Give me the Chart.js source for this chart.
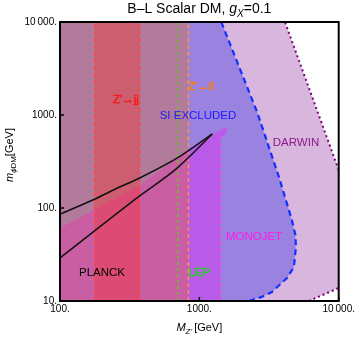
<!DOCTYPE html>
<html>
<head>
<meta charset="utf-8">
<script src="https://cdn.jsdelivr.net/npm/chart.js@4.4.1/dist/chart.umd.min.js"></script>
<style>
html, body { margin: 0; padding: 0; background: #fff; }
canvas { display: block; }
</style>
</head>
<body>
<canvas id="dmChart" width="357" height="337"></canvas>
<script>
'use strict';

// 축 눈금
const xTicks = [100, 1000, 10000];
const yTicks = [10, 100, 1000, 10000];

// 수직 경계 (M_Z' [GeV])
const zjjBand = [178, 373];
const zllEdge = 835;
const lepEdge = 700;
const monojetEdge = 1413;

// DARWIN 영역
const darwinX = [100, 6105, 10000, 10000, 4115, 100];
const darwinY = [10, 10, 13.8, 256, 10000, 10000];

// SI EXCLUDED 영역 (경계: 2275 ~ 1436)
const siX = [100, 2275, 2773, 3320, 4252, 4772, 4930, 4887, 4613, 3728, 2596, 1436, 100];
const siY = [10, 10, 11.0, 12.5, 17.7, 23.2, 38.1, 51.3, 74.3, 215, 1077, 10000, 10000];

// MONOJET 영역
const monojetX = [100, 100, 373, 849, 1450, 1590, 1560, 1413, 1413];
const monojetY = [10, 61, 177, 431, 705, 745, 640, 560, 10];

// PLANCK 곡선 (위 / 아래)
const upperX = [100, 172, 268, 373, 696, 1238];
const upperY = [86, 122, 168, 210, 345, 625];
const lowerX = [100, 373, 696, 1238];
const lowerY = [29, 135, 270, 625];

const FONT = '"Liberation Sans", Arial, sans-serif';

// 영역 라벨 (strong: 배경과 대비가 약한 라벨은 살짝 두껍게)
const regionLabels = [
	{ text: 'Z\'\u2192jj', x: 296, y: 1449, color: '#ff1010', strong: true },
	{ text: 'Z\'\u2192ll', x: 1034, y: 2000, color: '#ff8000', strong: true },
	{ text: 'SI EXCLUDED', x: 983, y: 975, color: '#1a1aff' },
	{ text: 'DARWIN', x: 4930, y: 500, color: '#8a1a8a' },
	{ text: 'MONOJET', x: 2471, y: 48.8, color: '#ff1ae6' },
	{ text: 'PLANCK', x: 200, y: 20, color: '#000000' },
	{ text: 'LEP', x: 990, y: 20, color: '#10e010', strong: true }
];

function pts(xs, ys) {
	return xs.map((x, i) => ({ x: x, y: ys[i] }));
}

function vline(x, y1, y2) {
	return [{ x: x, y: y1 }, { x: x, y: y2 }];
}

function rect(x1, x2) {
	return [{ x: x1, y: 10 }, { x: x2, y: 10 }, { x: x2, y: 10000 }, { x: x1, y: 10000 }];
}

function area(data, color) {
	return {
		data: data,
		fill: 'shape',
		backgroundColor: color,
		borderColor: 'rgba(0,0,0,0)',
		borderWidth: 0,
		pointRadius: 0,
		tension: 0
	};
}

function curve(data, color, width, dash) {
	return {
		data: data,
		fill: false,
		borderColor: color,
		borderWidth: width,
		borderDash: dash || [],
		pointRadius: 0,
		tension: 0
	};
}

// 곡선은 부드럽게
function smooth(ds) {
	ds.cubicInterpolationMode = 'monotone';
	return ds;
}

// 아래에서 위로 그리는 순서
const datasets = [
	area(pts(darwinX, darwinY), '#d9b6dd'),
	area(pts(siX, siY), '#9982e0'),
	area(pts(monojetX, monojetY), '#b95ae9'),
	area(rect(100, zllEdge), 'rgba(240,110,0,0.3)'),
	area(rect(zjjBand[0], zjjBand[1]), 'rgba(255,40,30,0.35)'),
	curve(pts(darwinX.slice(3, 5), darwinY.slice(3, 5)), '#800080', 2, [2, 3]),
	curve(pts(darwinX.slice(1, 3), darwinY.slice(1, 3)), '#800080', 2, [2, 3]),
	curve(pts(siX.slice(1, 12), siY.slice(1, 12)), '#1030ff', 2.2, [6, 4]),
	curve(vline(monojetEdge, 10, 640), '#ee44ee', 1.5, [4, 3]),
	curve(vline(zjjBand[0], 10, 10000), '#ff4444', 1.3, [4, 3]),
	curve(vline(zjjBand[1], 10, 10000), '#ff4444', 1.3, [4, 3]),
	curve(vline(zllEdge, 10, 10000), '#ff9a40', 1.3, [4, 3]),
	curve(vline(lepEdge, 10, 10000), '#66c030', 1.5, [3, 3]),
	smooth(curve(pts(upperX, upperY), '#111111', 1.5)),
	smooth(curve(pts(lowerX, lowerY), '#111111', 1.5))
];
datasets.forEach((d, i) => { d.order = datasets.length - i; });

// 이탤릭/아래첨자 섞인 텍스트
function drawRich(ctx, parts, cx, cy, size) {
	const fontOf = p => (p.italic ? 'italic ' : '') + (p.sub ? size * 0.72 : size) + 'px ' + FONT;
	let total = 0;
	parts.forEach(p => { ctx.font = fontOf(p); total += ctx.measureText(p.t).width; });
	let x = cx - total / 2;
	ctx.textAlign = 'left';
	ctx.textBaseline = 'alphabetic';
	parts.forEach(p => {
		ctx.font = fontOf(p);
		ctx.fillText(p.t, x, cy + (p.sub ? size * 0.3 : 0));
		x += ctx.measureText(p.t).width;
	});
}

const overlayPlugin = {
	id: 'overlay',
	afterDatasetsDraw(chart) {
		const ctx = chart.ctx;
		const a = chart.chartArea;
		const xs = chart.scales.x;
		const ys = chart.scales.y;

		ctx.save();
		ctx.font = '11.5px ' + FONT;
		ctx.textAlign = 'center';
		ctx.textBaseline = 'middle';
		ctx.lineWidth = 0.35;
		regionLabels.forEach(l => {
			const px = Math.round(xs.getPixelForValue(l.x));
			const py = Math.round(ys.getPixelForValue(l.y));
			ctx.fillStyle = l.color;
			ctx.strokeStyle = l.color;
			ctx.fillText(l.text, px, py);
			if (l.strong) ctx.strokeText(l.text, px, py);
		});

		// 프레임
		ctx.strokeStyle = '#000';
		ctx.lineWidth = 2;
		ctx.strokeRect(a.left, a.top, a.right - a.left, a.bottom - a.top);

		// 안쪽 눈금
		ctx.lineWidth = 1.5;
		ctx.beginPath();
		xTicks.forEach(v => {
			const px = xs.getPixelForValue(v);
			ctx.moveTo(px, a.bottom);
			ctx.lineTo(px, a.bottom - 4);
		});
		yTicks.forEach(v => {
			const py = ys.getPixelForValue(v);
			ctx.moveTo(a.left, py);
			ctx.lineTo(a.left + 4, py);
		});
		ctx.stroke();

		// 제목과 축 제목
		ctx.fillStyle = '#000';
		const midX = (a.left + a.right) / 2;
		drawRich(ctx, [
			{ t: 'B\u2013L Scalar DM, ' },
			{ t: 'g', italic: true },
			{ t: 'X', italic: true, sub: true },
			{ t: '=0.1' }
		], midX, 13, 14);
		drawRich(ctx, [
			{ t: 'M', italic: true },
			{ t: 'Z\'', italic: true, sub: true },
			{ t: '\u2009[GeV]' }
		], midX, 331, 11);

		ctx.translate(13, 155);
		ctx.rotate(-Math.PI / 2);
		drawRich(ctx, [
			{ t: 'm', italic: true },
			{ t: '\u03d5', italic: true, sub: true },
			{ t: 'DM', sub: true },
			{ t: '[GeV]' }
		], 0, 0, 11);
		ctx.restore();
	}
};

function tickLabel(v) {
	return v === 10000 ? '10\u2009000.' : v + '.';
}

new Chart(document.getElementById('dmChart'), {
	type: 'line',
	data: { datasets: datasets },
	options: {
		responsive: false,
		animation: false,
		events: [],
		layout: { padding: { top: 22, right: 17, bottom: 0, left: 0 } },
		plugins: {
			legend: { display: false },
			tooltip: { enabled: false },
			title: { display: false },
			filler: { drawTime: 'beforeDatasetDraw' }
		},
		scales: {
			x: {
				type: 'logarithmic',
				min: 100,
				max: 10000,
				afterBuildTicks: s => { s.ticks = xTicks.map(v => ({ value: v })); },
				afterFit: s => { s.height = 36; },
				grid: { display: false, drawTicks: false },
				border: { display: false },
				ticks: {
					callback: tickLabel,
					color: '#000',
					font: { size: 10, family: FONT },
					padding: 2,
					maxRotation: 0,
					autoSkip: false
				}
			},
			y: {
				type: 'logarithmic',
				min: 10,
				max: 10000,
				afterBuildTicks: s => { s.ticks = yTicks.map(v => ({ value: v })); },
				afterFit: s => { s.width = 60; },
				grid: { display: false, drawTicks: false },
				border: { display: false },
				ticks: {
					callback: tickLabel,
					color: '#000',
					font: { size: 10, family: FONT },
					padding: 3,
					autoSkip: false
				}
			}
		}
	},
	plugins: [overlayPlugin]
});
</script>
</body>
</html>
